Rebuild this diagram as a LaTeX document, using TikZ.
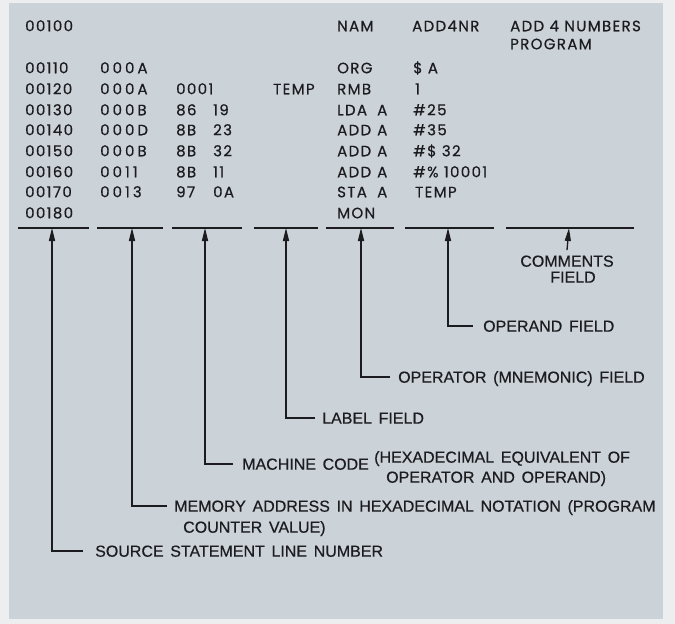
\documentclass[tikz,border=0pt]{standalone}
\usepackage{fontspec}
\setmainfont{Liberation Sans}
\newfontfamily\tabfont[LetterSpace=9,FakeBold=0.5]{Poppins}
\newfontfamily\labfont[WordSpace=1.5,FakeBold=0.5]{Liberation Sans}
\usetikzlibrary{arrows.meta}
\definecolor{panel}{RGB}{203,210,216}
\definecolor{margin}{RGB}{236,238,239}
\definecolor{ink}{RGB}{28,28,32}
\begin{document}
\begin{tikzpicture}[x=1pt,y=-1pt,
  tab/.style={anchor=west,inner sep=0pt,text height=10.5pt,text depth=0pt,
    font=\tabfont\fontsize{15}{17}\selectfont,text=ink},
  tabw/.style={tab,font=\tabfont\fontsize{15}{17}\selectfont\addfontfeatures{LetterSpace=20}},
  lab/.style={anchor=west,inner sep=0pt,text height=11.4pt,text depth=0pt,
    font=\labfont\fontsize{16}{18}\selectfont,text=ink},
  uline/.style={line width=1.6pt,draw=ink},
  arr/.style={line width=1.3pt,draw=ink,-{Triangle[length=13pt,width=6pt]}},
]
\fill[margin] (0,0) rectangle (675,624);
\fill[panel] (9,3) rectangle (663,619);

% ---- table ----
\node[tab] (r0a) at (25,26) {00100};
\node[tab] (r0e) at (337,26) {NAM};
\node[tab] (r0f) at (412,26) {ADD4NR};
\node[tab] (r0g) at (510,26) {ADD 4 NUMBERS};
\node[tab] (r0h) at (510,44) {PROGRAM};

\node[tab] (r1a) at (25,68) {00110};
\node[tabw] (r1b) at (100,68) {000A};
\node[tab] (r1e) at (337,68) {ORG};
\node[tab] (r1f) at (413,68) {\$ A};

\node[tab] (r2a) at (25,89) {00120};
\node[tabw] (r2b) at (100,89) {000A};
\node[tab] (r2c) at (176,89) {0001};
\node[tab] (r2d) at (273,89) {TEMP};
\node[tab] (r2e) at (337,89) {RMB};
\node[tab] (r2f) at (415,89) {1};

\node[tab] (r3a) at (25,110) {00130};
\node[tabw] (r3b) at (100,110) {000B};
\node[tab] (r3c) at (176,110) {86};
\node[tab] (r3d) at (213,110) {19};
\node[tab] (r3e) at (337,110) {LDA};
\node[tab] (r3e2) at (377,110) {A};
\node[tab] (r3f) at (413,110) {\#25};

\node[tab] (r4a) at (25,130) {00140};
\node[tabw] (r4b) at (100,130) {000D};
\node[tab] (r4c) at (176,130) {8B};
\node[tab] (r4d) at (213,130) {23};
\node[tab] (r4e) at (337,130) {ADD};
\node[tab] (r4e2) at (377,130) {A};
\node[tab] (r4f) at (413,130) {\#35};

\node[tab] (r5a) at (25,151) {00150};
\node[tabw] (r5b) at (100,151) {000B};
\node[tab] (r5c) at (176,151) {8B};
\node[tab] (r5d) at (213,151) {32};
\node[tab] (r5e) at (337,151) {ADD};
\node[tab] (r5e2) at (377,151) {A};
\node[tab] (r5f) at (413,151) {\#\$ 32};

\node[tab] (r6a) at (25,172) {00160};
\node[tabw] (r6b) at (100,172) {0011};
\node[tab] (r6c) at (176,172) {8B};
\node[tab] (r6d) at (213,172) {11};
\node[tab] (r6e) at (337,172) {ADD};
\node[tab] (r6e2) at (377,172) {A};
\node[tab] (r6f) at (413,172) {\#\% 10001};

\node[tab] (r7a) at (25,192) {00170};
\node[tabw] (r7b) at (100,192) {0013};
\node[tab] (r7c) at (176,192) {97};
\node[tab] (r7d) at (213,192) {0A};
\node[tab] (r7e) at (337,192) {STA};
\node[tab] (r7e2) at (377,192) {A};
\node[tab] (r7f) at (415,192) {TEMP};

\node[tab] (r8a) at (25,213) {00180};
\node[tab] (r8e) at (337,213) {MON};

% ---- field underlines ----
\draw[uline] (18,228) -- (89,228);
\draw[uline] (97,228) -- (163,228);
\draw[uline] (172,228) -- (242,228);
\draw[uline] (254,228) -- (318,228);
\draw[uline] (326,228) -- (394,228);
\draw[uline] (405,228) -- (494,228);
\draw[uline] (506,228) -- (634,228);

\coordinate (u1) at (52,228);
\coordinate (u2) at (132,228);
\coordinate (u3) at (205,228);
\coordinate (u4) at (286,228);
\coordinate (u5) at (361,228);
\coordinate (u6) at (448,228);
\coordinate (u7) at (569,228);

% ---- labels ----
\node[lab,anchor=center] (com1) at (567,261) {COMMENTS};
\node[lab,anchor=center] (com2) at (573,277) {FIELD};
\node[lab] (opd) at (483,326) {OPERAND FIELD};
\node[lab] (opr) at (398,377) {OPERATOR (MNEMONIC) FIELD};
\node[lab] (lbl) at (322,418) {LABEL FIELD};
\node[lab] (mc) at (242,464) {MACHINE CODE};
\node[lab] (mc2) at (374,457) {(HEXADECIMAL EQUIVALENT OF};
\node[lab] (mc3) at (386,477) {OPERATOR AND OPERAND)};
\node[lab] (mem) at (174,506) {MEMORY ADDRESS IN HEXADECIMAL NOTATION (PROGRAM};
\node[lab] (mem2) at (183,527) {COUNTER VALUE)};
\node[lab] (src) at (95,551) {SOURCE STATEMENT LINE NUMBER};

% ---- connectors ----
\draw[arr] ([yshift=5pt]com1.north) -- (u7);
\draw[arr] (opd.west) ++(-10,0) -| (u6);
\draw[arr] (opr.west) ++(-8,0) -| (u5);
\draw[arr] (lbl.west) ++(-7,0) -| (u4);
\draw[arr] (mc.west) ++(-9,0) -| (u3);
\draw[arr] (mem.west) ++(-7,0) -| (u2);
\draw[arr] (src.west) ++(-12,0) -| (u1);
\end{tikzpicture}
\end{document}
